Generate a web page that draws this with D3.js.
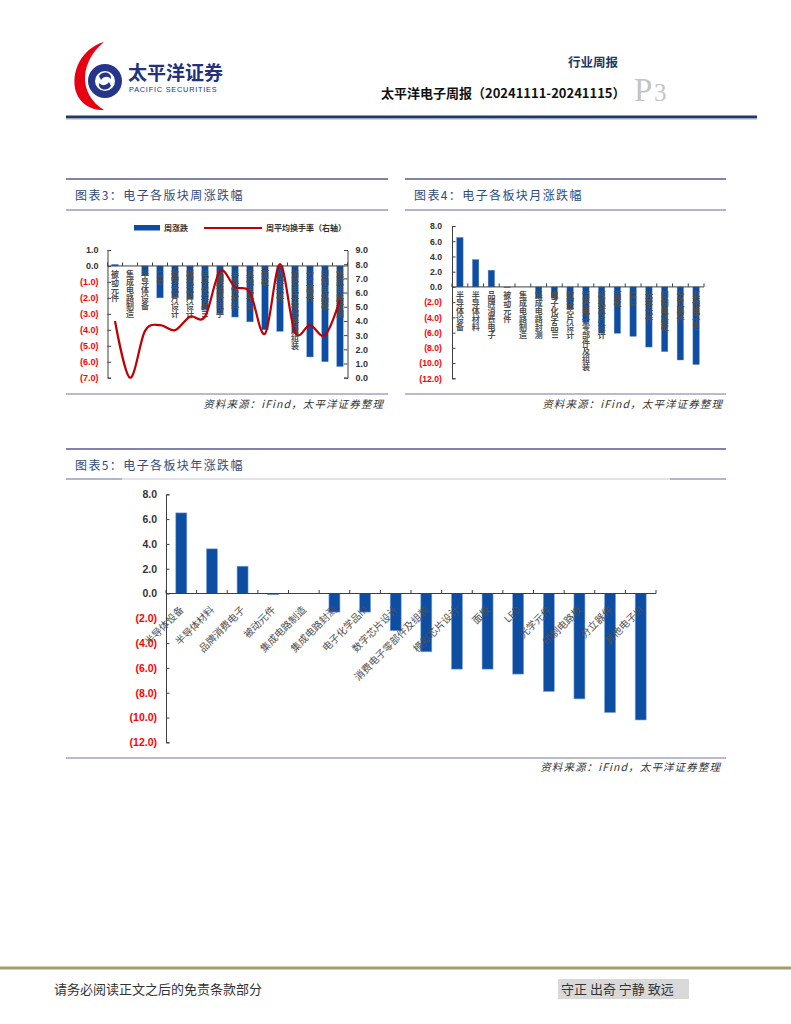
<!DOCTYPE html>
<html><head><meta charset="utf-8">
<script src="https://cdn.jsdelivr.net/npm/d3@7"></script>
<style>
body{margin:0;background:#fff;}
svg{display:block;}
</style></head><body>
<svg id="page" width="791" height="1024"></svg>
<script>
// ---------- DATA ----------
const cats3 = ["被动元件","集成电路制造","半导体设备","LED","数字芯片设计","模拟芯片设计","电子化学品III","品牌消费电子","半导体材料","其他电子III","面板","光学元件","消费电子零部件及组装","分立器件","印制电路板","集成电路封测"];
const weekChg = [0.1, 0.0, -0.6, -2.0, -2.0, -2.1, -2.7, -3.0, -3.2, -3.5, -4.0, -4.1, -4.2, -5.7, -6.0, -6.3];
const turnover = [4.0, 0.0, 3.3, 3.7, 3.35, 4.3, 4.3, 7.5, 6.4, 6.0, 3.1, 8.0, 3.2, 3.7, 3.0, 5.5];
const leftTicks3 = [1,0,-1,-2,-3,-4,-5,-6,-7];
const rightTicks3 = [0,1,2,3,4,5,6,7,8,9];

const cats45 = ["半导体设备","半导体材料","品牌消费电子","被动元件","集成电路制造","集成电路封测","电子化学品III","数字芯片设计","消费电子零部件及组装","模拟芯片设计","面板","LED","光学元件","印制电路板","分立器件","其他电子III"];
const monthChg = [6.5, 3.6, 2.2, -0.1, 0.0, -1.5, -1.5, -3.0, -4.7, -6.1, -6.1, -6.5, -7.9, -8.5, -9.6, -10.2];
const yearChg  = [6.5, 3.6, 2.2, -0.1, 0.0, -1.5, -1.5, -3.0, -4.7, -6.1, -6.1, -6.5, -7.9, -8.5, -9.6, -10.2];
const ticks45 = [8,6,4,2,0,-2,-4,-6,-8,-10,-12];

const legendNames = ["周涨跌","周平均换手率（右轴）"];
const titles = ["图表3：电子各版块周涨跌幅","图表4：电子各板块月涨跌幅","图表5：电子各板块年涨跌幅"];
const sourceText = "资料来源：iFind，太平洋证券整理";

// ---------- STYLE ----------
const CJK = "'Noto Sans CJK SC','Noto Sans',sans-serif";
const NUM = "'Liberation Sans',Arial,sans-serif";
const BAR = "#0D4EA3";
const svg = d3.select("#page");

const fmt = v => v < 0 ? "(" + Math.abs(v).toFixed(1) + ")" : v.toFixed(1);
const tcol = v => v < 0 ? "#FF0000" : "#333333";

// ---------- HEADER ----------
const hd = svg.append("g");
hd.append("path").attr("d","M104 42 C82 48 70 72 76 92 C80 104 92 111 104 110 C92 103 84 90 85 76 C86 62 94 50 104 42 Z").attr("fill","#E60012");
hd.append("circle").attr("cx",105).attr("cy",81).attr("r",17).attr("fill","#25358A");
hd.append("circle").attr("cx",105).attr("cy",81).attr("r",10).attr("fill","#fff");
hd.append("path").attr("d","M99 76 C103 70 112 72 111 79 C108 76 104 76 101 80 Z M111 86 C107 92 98 90 99 83 C102 86 106 86 109 82 Z").attr("fill","#25358A");
hd.append("text").attr("x",128).attr("y",80).attr("font-family",CJK).attr("font-weight",700).attr("font-size",19).attr("fill","#23317F").text("太平洋证券");
hd.append("text").attr("x",129).attr("y",92).attr("font-family",NUM).attr("font-size",7.3).attr("letter-spacing",0.8).attr("fill","#23317F").text("PACIFIC SECURITIES");
hd.append("text").attr("x",568).attr("y",67).attr("font-family",CJK).attr("font-weight",700).attr("font-size",12.5).attr("fill","#1F3864").text("行业周报");
hd.append("text").attr("x",381).attr("y",98).attr("font-family",CJK).attr("font-weight",700).attr("font-size",13).attr("fill","#111").text("太平洋电子周报（20241111-20241115）");
hd.append("text").attr("x",634).attr("y",101).attr("font-family","'Liberation Serif',serif").attr("font-size",33).attr("fill","#C4C4C4").text("P");
hd.append("text").attr("x",654).attr("y",101).attr("font-family","'Liberation Serif',serif").attr("font-size",25).attr("fill","#C4C4C4").text("3");
hd.append("rect").attr("x",66).attr("y",115.5).attr("width",691).attr("height",3).attr("fill","#1F3864");
hd.append("rect").attr("x",66).attr("y",118.5).attr("width",691).attr("height",1).attr("fill","#9FB0CC");

// ---------- PANEL FRAMES ----------
function panel(x0, x1, yTop, yUnder, yBot, title, titleY, srcY, srcX, lightUnder) {
  const g = svg.append("g");
  g.append("line").attr("x1",x0).attr("x2",x1).attr("y1",yTop).attr("y2",yTop).attr("stroke","#8282AA").attr("stroke-width",2);
  if (lightUnder) {
    g.append("line").attr("x1",x0).attr("x2",x1).attr("y1",yUnder).attr("y2",yUnder).attr("stroke","#E2E2EC").attr("stroke-width",2);
    g.append("line").attr("x1",x0).attr("x2",x0+56).attr("y1",yUnder).attr("y2",yUnder).attr("stroke","#A4A4C4").attr("stroke-width",1.5);
    g.append("line").attr("x1",x1-56).attr("x2",x1).attr("y1",yUnder).attr("y2",yUnder).attr("stroke","#A4A4C4").attr("stroke-width",1.5);
  } else {
    g.append("line").attr("x1",x0).attr("x2",x1).attr("y1",yUnder).attr("y2",yUnder).attr("stroke","#9A9AC0").attr("stroke-width",1.5);
  }
  g.append("line").attr("x1",x0).attr("x2",x1).attr("y1",yBot).attr("y2",yBot).attr("stroke","#A2A2C4").attr("stroke-width",1.5);
  g.append("text").attr("x",x0+9).attr("y",titleY).attr("font-family",CJK).attr("font-size",12).attr("letter-spacing",1.4).attr("fill","#2F4B7C").text(title);
  g.append("text").attr("x",srcX).attr("y",srcY).attr("text-anchor","end").attr("font-family",CJK).attr("font-style","italic").attr("font-size",10.5).attr("letter-spacing",1.1).attr("fill","#333").text(sourceText);
}
panel(66, 388, 179, 210, 394, titles[0], 200, 408, 384, false);
panel(405, 726, 179, 210, 394, titles[1], 200, 408, 723, false);
panel(66, 726, 449, 479, 758, titles[2], 470, 771, 721, true);

// ---------- helpers ----------
function catAxis(g, x, cats, y0, x0, x1) {
  g.append("line").attr("x1",x0).attr("x2",x1).attr("y1",y0).attr("y2",y0).attr("stroke","#404040").attr("stroke-width",1);
  const bounds = cats.map(c => x(c)).concat([x(cats[cats.length-1]) + x.step()]);
  g.selectAll(".ct").data(bounds).join("line").attr("x1",d=>d).attr("x2",d=>d).attr("y1",y0).attr("y2",y0-3.5).attr("stroke","#404040").attr("stroke-width",1);
}
function styleAxis(ax, fs) {
  ax.select(".domain").attr("stroke","#404040");
  ax.selectAll(".tick line").attr("stroke","#404040");
  ax.selectAll(".tick text").attr("font-family",NUM).attr("font-weight",700).attr("font-size",fs).attr("fill",d=>tcol(d));
}
// measure glyph advance
const meas = svg.append("text").attr("font-family",CJK).attr("font-weight",700).attr("visibility","hidden");
function adv(ch, fs) { meas.attr("font-size",fs).text(ch); return meas.node().getComputedTextLength(); }
// stacked vertical label in ONE text element: CJK upright, Latin glyphs turned sideways
function vLabels(g, x, cats, y0, fs) {
  cats.forEach(c => {
    const cx = x(c) + x.step()/2;
    const xs = [], ys = [], rs = [];
    let yy = y0;
    for (const ch of c) {
      if (/[A-Za-z0-9]/.test(ch)) {
        xs.push((cx - fs*0.36).toFixed(2)); ys.push(yy.toFixed(2)); rs.push(90);
        yy += adv(ch, fs);
      } else {
        xs.push((cx - fs/2).toFixed(2)); ys.push((yy + fs*0.88).toFixed(2)); rs.push(0);
        yy += fs;
      }
    }
    g.append("text").attr("x", xs.join(" ")).attr("y", ys.join(" ")).attr("rotate", rs.join(" "))
      .attr("font-family",CJK).attr("font-weight",700).attr("font-size",fs).attr("fill","#505050").text(c);
  });
}

// ---------- CHART 3 ----------
{
  const g = svg.append("g");
  const x = d3.scaleBand().domain(cats3).range([107.5, 347.5]);
  const yL = d3.scaleLinear().domain([-7, 1]).range([377.7, 250]);
  const yR = d3.scaleLinear().domain([0, 9]).range([377.7, 250]);
  const bw = 6.5;
  g.selectAll(".bar").data(cats3).join("rect")
    .attr("x", c => x(c) + (x.step()-bw)/2)
    .attr("width", bw)
    .attr("y", (c,i) => Math.min(yL(0), yL(weekChg[i])))
    .attr("height", (c,i) => Math.abs(yL(weekChg[i]) - yL(0)))
    .attr("fill", BAR).attr("stroke","#6F97D2").attr("stroke-width",0.4);
  catAxis(g, x, cats3, yL(0), 107.5, 347.5);
  vLabels(g, x, cats3, yL(0)+4, 8);
  const axL = g.append("g").attr("transform","translate(107.5,0)").call(d3.axisLeft(yL).tickValues(leftTicks3).tickSize(-3.5).tickPadding(9).tickFormat(fmt));
  styleAxis(axL, 9);
  const axR = g.append("g").attr("transform","translate(347.5,0)").call(d3.axisRight(yR).tickValues(rightTicks3).tickSize(-3.5).tickPadding(8).tickFormat(d=>d.toFixed(1)));
  styleAxis(axR, 9);
  axR.selectAll(".tick text").attr("fill","#333");
  const line = d3.line().x(c => x(c) + x.step()/2).y((c,i) => yR(turnover[i])).curve(d3.curveCardinal.tension(0));
  g.append("path").attr("d", line(cats3)).attr("fill","none").attr("stroke","#C00000").attr("stroke-width",2.2);
  // legend
  g.append("rect").attr("x",134).attr("y",225).attr("width",26).attr("height",5.5).attr("fill",BAR);
  g.append("text").attr("x",164).attr("y",231).attr("font-family",CJK).attr("font-weight",700).attr("font-size",8).attr("fill","#333").text(legendNames[0]);
  g.append("line").attr("x1",204).attr("x2",262).attr("y1",228).attr("y2",228).attr("stroke","#C00000").attr("stroke-width",2.2);
  g.append("text").attr("x",266).attr("y",231).attr("font-family",CJK).attr("font-weight",700).attr("font-size",8).attr("fill","#333").text(legendNames[1]);
}

// ---------- CHART 4 ----------
{
  const g = svg.append("g");
  const x = d3.scaleBand().domain(cats45).range([452, 704]);
  const y = d3.scaleLinear().domain([-12, 8]).range([378.3, 226]);
  const bw = 6.5;
  g.selectAll(".bar").data(cats45).join("rect")
    .attr("x", c => x(c) + (x.step()-bw)/2)
    .attr("width", bw)
    .attr("y", (c,i) => Math.min(y(0), y(monthChg[i])))
    .attr("height", (c,i) => Math.abs(y(monthChg[i]) - y(0)))
    .attr("fill", BAR).attr("stroke","#6F97D2").attr("stroke-width",0.4);
  catAxis(g, x, cats45, y(0), 452, 704);
  vLabels(g, x, cats45, y(0)+4, 8);
  const ax = g.append("g").attr("transform","translate(452,0)").call(d3.axisLeft(y).tickValues(ticks45).tickSize(-3.5).tickPadding(10).tickFormat(fmt));
  styleAxis(ax, 8.7);
}

// ---------- CHART 5 ----------
{
  const g = svg.append("g");
  const x = d3.scaleBand().domain(cats45).range([166, 656]);
  const y = d3.scaleLinear().domain([-12, 8]).range([742.3, 494.3]);
  const bw = 11;
  g.selectAll(".bar").data(cats45).join("rect")
    .attr("x", c => x(c) + (x.step()-bw)/2)
    .attr("width", bw)
    .attr("y", (c,i) => Math.min(y(0), y(yearChg[i])))
    .attr("height", (c,i) => Math.abs(y(yearChg[i]) - y(0)))
    .attr("fill", BAR).attr("stroke","#7FA3D8").attr("stroke-width",0.6);
  catAxis(g, x, cats45, y(0), 166, 656);
  const ax = g.append("g").attr("transform","translate(166,0)").call(d3.axisLeft(y).tickValues(ticks45).tickSize(-3.5).tickPadding(9).tickFormat(fmt));
  styleAxis(ax, 10.5);
  g.selectAll(".dl").data(cats45).join("text")
    .attr("transform", c => `translate(${x(c) + x.step()/2 + 3},${y(0) + 17}) rotate(-45)`)
    .attr("text-anchor","end")
    .attr("font-family", CJK).attr("font-size", 10).attr("fill","#505050")
    .text(c => c);
}
meas.remove();

// ---------- FOOTER ----------
svg.append("line").attr("x1",0).attr("x2",791).attr("y1",968).attr("y2",968).attr("stroke","#A39B70").attr("stroke-width",3);
svg.append("text").attr("x",54).attr("y",994).attr("font-family",CJK).attr("font-size",13).attr("fill","#333").text("请务必阅读正文之后的免责条款部分");
svg.append("rect").attr("x",558).attr("y",979).attr("width",131).attr("height",20).attr("fill","#D9D9D9");
svg.append("text").attr("x",561).attr("y",994).attr("font-family",CJK).attr("font-size",13).attr("fill","#333").text("守正 出奇 宁静 致远");
</script>
</body></html>
